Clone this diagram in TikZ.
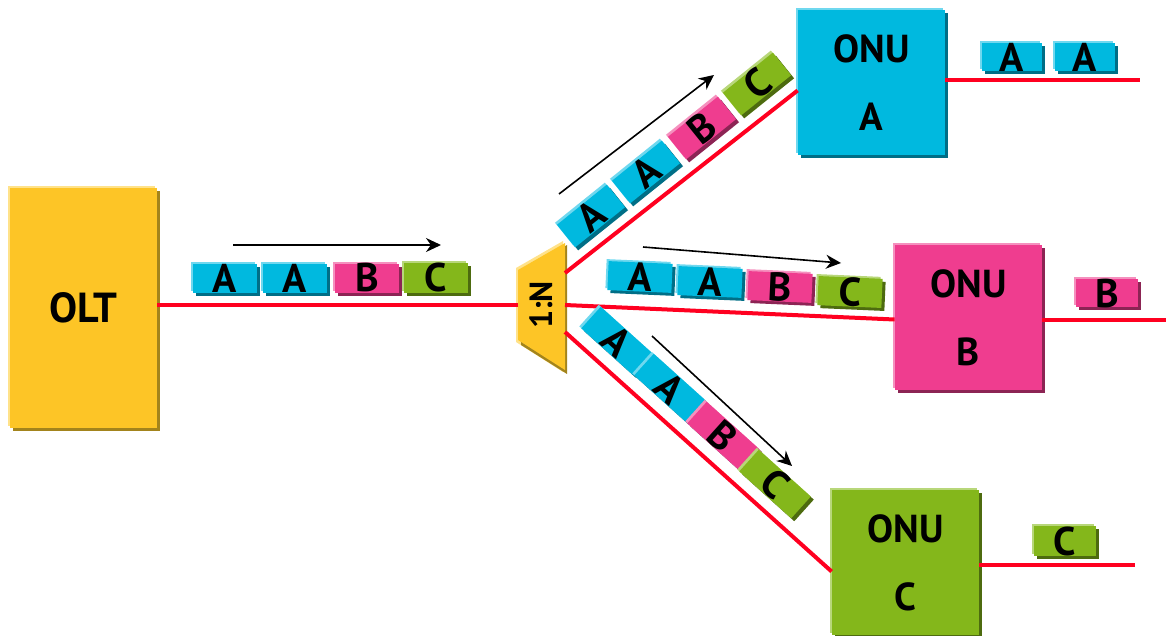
\documentclass[tikz,border=0pt]{standalone}
\usepackage{fontspec}
\setmainfont{PT Sans}
\usepackage{tikz}
\usetikzlibrary{
  arrows.meta,
  positioning,
  calc,
  shadows
}
\definecolor{oltyel}{HTML}{FDC526}
\definecolor{oltyelL}{HTML}{FFE28A}
\definecolor{oltyelD}{HTML}{A3841C}
\definecolor{onucyan}{HTML}{00B9DF}
\definecolor{onucyanL}{HTML}{6FD8EF}
\definecolor{onucyanD}{HTML}{006E86}
\definecolor{onupink}{HTML}{EF3D8F}
\definecolor{onupinkL}{HTML}{F590BE}
\definecolor{onupinkD}{HTML}{8C2454}
\definecolor{onugrn}{HTML}{84B71B}
\definecolor{onugrnL}{HTML}{B8D77A}
\definecolor{onugrnD}{HTML}{4D6B0F}
\definecolor{fibred}{HTML}{FF0020}

\begin{document}
\begin{tikzpicture}[
  x=0.5pt, y=-0.5pt,
  raised/.style={fill=#1,
                 general shadow={fill=#1D, shadow xshift=1.5pt, shadow yshift=-1.5pt},
                 general shadow={fill=#1L, shadow xshift=-1pt, shadow yshift=1pt}},
  box/.style={raised=#1, minimum width=73.5pt, minimum height=72.5pt, inner sep=0pt,
              align=center, font=\fontsize{19.5}{34}\selectfont\bfseries},
  pkt/.style={raised=#1, minimum width=32pt, minimum height=14.5pt, inner sep=0pt,
              font=\fontsize{20}{20}\selectfont\bfseries},
  fiber/.style={draw=fibred, line width=2pt},
  arrow/.style={-{Stealth[length=7.5pt, width=7pt]}, line width=0.8pt},
]
  \useasboundingbox (0,0) rectangle (1166,636);

  % OLT and splitter
  \node[box=oltyel, minimum height=120pt, font=\fontsize{21}{24}\selectfont\bfseries]
    (olt) at (83.5,308) {OLT};
  \fill[oltyelL] (516,268) -- (563,241) -- (563,372) -- (516,342) -- cycle;
  \fill[oltyelD] (521,272) -- (567,245) -- (567,374) -- (521,345) -- cycle;
  \fill[oltyel]  (518,270) -- (565,243) -- (565,370) -- (518,340) -- cycle;
  \node[rotate=90, font=\fontsize{16}{16}\selectfont\bfseries] (split) at (541,305) {1:N};
  \coordinate (sw) at (518,305);
  \coordinate (sa) at (565,273);
  \coordinate (sb) at (565,305);
  \coordinate (sc) at (565,332);

  % ONUs
  \node[box=onucyan] (onuA) at (871.5,82.5) {ONU\\A};
  \node[box=onupink] (onuB) at (968.5,317.5) {ONU\\B};
  \node[box=onugrn]  (onuC) at (905.5,562.5) {ONU\\C};

  % fibres
  \draw[fiber] (sw) -- (sw -| olt.east);
  \draw[fiber] (sa) -- ($(onuA.west)+(0,8)$);
  \draw[fiber] (sb) -- ($(onuB.west)+(0,2)$);
  \draw[fiber] (sc) -- ($(onuC.west)+(0,9)$);
  \coordinate (outA) at (1140,80);
  \coordinate (outB) at (1166,320);
  \coordinate (outC) at (1135,565);
  \draw[fiber] (outA -| onuA.east) -- (outA);
  \draw[fiber] (outB -| onuB.east) -- (outB);
  \draw[fiber] (outC -| onuC.east) -- (outC);

  % feeder frames
  \node[pkt=onucyan] (f1) at (225,278) {A};
  \node[pkt=onucyan] (f2) at (295,278) {A};
  \node[pkt=onupink] (f3) at (367,278) {B};
  \node[pkt=onugrn]  (f4) at (436,278) {C};
  \draw[arrow] (233,245) -- (441,245);

  % branch A
  \node[pkt=onucyan, rotate=38.8] (a1) at (591,216) {A};
  \node[pkt=onucyan, rotate=38.8] (a2) at (646,172) {A};
  \node[pkt=onupink, rotate=38.8] (a3) at (702,128) {B};
  \node[pkt=onugrn,  rotate=38.8] (a4) at (757,84) {C};
  \draw[arrow] (559,194) -- (714,75);

  % branch B
  \node[pkt=onucyan, rotate=-2.5] (b1) at (640,277) {A};
  \node[pkt=onucyan, rotate=-2.5] (b2) at (710,282) {A};
  \node[pkt=onupink, rotate=-2.5] (b3) at (780,287) {B};
  \node[pkt=onugrn,  rotate=-2.5] (b4) at (850,292) {C};
  \draw[arrow] (643,247) -- (841,263);

  % branch C
  \node[pkt=onucyan, rotate=-42, minimum width=35pt] (c1) at (617,341) {A};
  \node[pkt=onucyan, rotate=-42, minimum width=35pt] (c2) at (670,388) {A};
  \node[pkt=onupink, rotate=-42, minimum width=35pt] (c3) at (723,436) {B};
  \node[pkt=onugrn,  rotate=-42, minimum width=35pt] (c4) at (775,484) {C};
  \draw[arrow] (652,336) -- (792,466);

  % delivered frames
  \node[pkt=onucyan, minimum width=30pt, minimum height=12pt] (ra1) at (1012,57) {A};
  \node[pkt=onucyan, minimum width=30pt, minimum height=12pt] (ra2) at (1085,57) {A};
  \node[pkt=onupink, minimum width=31pt, minimum height=13pt] (rb)  at (1107,293) {B};
  \node[pkt=onugrn,  minimum width=31pt, minimum height=13pt] (rc)  at (1065,541) {C};
\end{tikzpicture}
\end{document}
